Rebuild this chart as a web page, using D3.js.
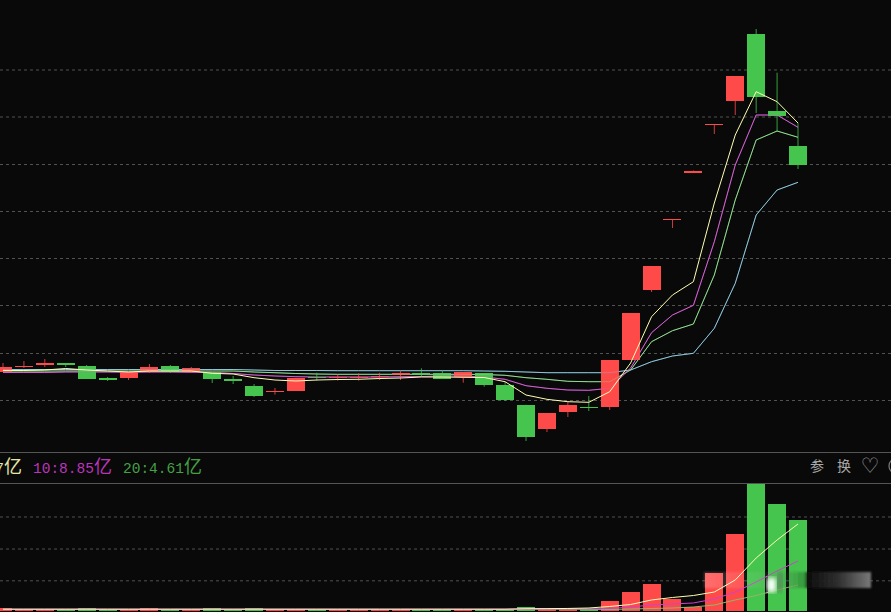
<!DOCTYPE html>
<meta charset="utf-8">
<style>
html, body { margin: 0; padding: 0; background: #090909; overflow: hidden; }
svg { display: block; }
.grid line { stroke: #525252; stroke-dasharray: 3,3; }
.grid path { display: none; }
.grid text { display: none; }
</style>

<svg width="891" height="612"></svg>

<script src="https://cdn.jsdelivr.net/npm/d3@7"></script>

<script>

// daily candles
var opens  = [7.80,8.27,8.47,8.70,8.40,7.20,7.20,7.77,8.40,7.80,7.77,7.10,6.40,5.80,5.90,7.33,7.20,7.23,7.33,7.53,7.70,7.70,7.33,7.70,6.50,4.53,2.10,3.80,4.30,4.30,9.00,16.00,23.03,27.75,32.50,34.90,41.60,33.87,30.40];
var closes = [8.27,8.40,8.73,8.50,7.10,7.00,7.77,8.30,7.80,8.20,7.10,6.93,5.40,5.93,7.23,7.23,7.33,7.33,7.43,7.73,7.50,7.10,7.80,6.50,5.00,1.30,3.70,4.50,4.20,9.00,13.70,18.40,23.10,27.95,32.60,37.40,35.30,33.40,28.50];
var highs  = [8.70,8.90,9.10,8.70,8.50,7.30,7.77,8.60,8.50,8.30,7.77,7.40,6.60,6.20,7.23,7.73,7.60,7.67,7.73,7.90,8.17,7.93,7.80,7.70,6.83,4.53,3.70,4.83,5.40,9.00,13.70,18.40,23.10,27.95,32.60,37.40,42.10,37.73,32.70];
var lows   = [7.80,8.20,8.30,8.30,7.10,6.90,7.00,7.70,7.70,7.70,6.70,6.60,5.30,5.53,5.90,6.93,6.93,6.93,7.00,7.00,7.33,7.10,6.73,6.33,4.90,0.90,1.80,3.30,3.90,4.00,9.00,15.80,22.20,27.75,31.60,33.50,33.70,31.83,28.10];

// price moving averages
var ma5  = [7.95,7.95,8.00,8.15,8.00,7.90,7.80,7.90,7.90,7.90,7.67,7.60,7.23,7.00,6.90,7.00,7.05,7.07,7.15,7.20,7.30,7.30,7.27,7.25,6.83,5.50,5.07,4.83,4.77,5.83,8.70,13.33,15.50,16.83,24.70,31.50,35.83,34.83,32.70];
var ma10 = [7.75,7.75,7.75,7.80,7.80,7.80,7.77,7.80,7.80,7.77,7.77,7.65,7.50,7.40,7.33,7.30,7.30,7.30,7.30,7.33,7.35,7.40,7.40,7.30,7.07,6.43,6.17,6.00,5.97,6.17,8.20,11.73,13.50,14.47,20.83,28.50,33.50,33.50,32.27];
var ma20 = [7.90,7.90,7.90,7.90,7.90,7.90,7.90,7.90,7.90,7.90,7.90,7.90,7.80,7.73,7.65,7.60,7.57,7.57,7.57,7.57,7.57,7.57,7.57,7.55,7.47,7.23,7.07,6.87,6.83,6.83,8.00,10.83,11.93,12.60,17.50,25.00,31.00,31.90,31.27];
var ma60 = [8.05,8.05,8.05,8.05,8.05,8.05,8.05,8.05,8.05,8.05,8.05,8.05,8.00,7.95,7.95,7.95,7.93,7.93,7.93,7.93,7.93,7.93,7.93,7.90,7.87,7.80,7.73,7.73,7.73,7.73,8.00,8.83,9.40,9.67,12.17,16.67,23.50,26.00,26.77];

// volume, in 亿
var volumes = [0.48,0.27,0.27,0.27,0.48,0.27,0.27,0.48,0.27,0.27,0.48,0.27,0.48,0.27,0.27,0.27,0.27,0.27,0.27,0.27,0.27,0.27,0.27,0.27,0.27,0.76,0.27,0.27,0.35,1.77,3.36,4.78,2.12,0.76,6.73,13.63,22.48,18.94,16.11];
var volMa5  = [0.32,0.32,0.32,0.32,0.32,0.32,0.32,0.32,0.32,0.32,0.32,0.32,0.32,0.32,0.32,0.32,0.32,0.32,0.32,0.32,0.32,0.32,0.32,0.32,0.32,0.40,0.42,0.45,0.53,0.80,1.15,1.95,2.39,2.74,3.36,5.49,9.38,12.57,15.40];
var volMa10 = [0.32,0.32,0.32,0.32,0.32,0.32,0.32,0.32,0.32,0.32,0.32,0.32,0.32,0.32,0.32,0.32,0.32,0.32,0.32,0.32,0.32,0.32,0.32,0.32,0.32,0.35,0.36,0.38,0.40,0.44,0.71,1.06,1.24,1.42,2.12,3.36,5.13,7.08,8.85];
var volMa20 = [0.30,0.30,0.30,0.30,0.30,0.30,0.30,0.30,0.30,0.30,0.30,0.30,0.30,0.30,0.30,0.30,0.30,0.30,0.30,0.30,0.30,0.30,0.30,0.30,0.30,0.30,0.30,0.30,0.30,0.27,0.35,0.44,0.53,0.71,1.06,1.95,2.74,3.72,4.61];

// grid levels (no labels in the picture)
var priceGrid = [38.05,33.35,28.60,23.90,19.20,14.50,9.70,5.00];
var volGrid = [16.73,11.06,5.43];

var legendLabels = ["5:15.37", "10:8.85", "20:4.61"];
var toolLabels = ["参", "换"];

var RED = "#ff4a4a", GREEN = "#45c44e";

var svg = d3.select("svg"),
    width = +svg.attr("width");

var x = d3.scaleLinear().domain([0, 38]).range([3, 798]);
var y = d3.scaleLinear().domain([0, 45]).range([450, 0]);
var yVol = d3.scaleLinear().domain([0, 22.48]).range([611, 484]);

var bodyW = 18;

function isUp(i) { return closes[i] >= opens[i]; }
var idx = d3.range(opens.length);

// grids
svg.append("g").attr("class", "grid")
    .call(d3.axisLeft(y).tickValues(priceGrid).tickSize(-width).tickFormat(""));
svg.append("g").attr("class", "grid")
    .call(d3.axisLeft(yVol).tickValues(volGrid).tickSize(-width).tickFormat(""));

// panel separators
svg.selectAll(".sep")
    .data([452.5, 483.5])
    .enter().append("line")
    .attr("x1", 0).attr("x2", width)
    .attr("y1", function(d) { return d; })
    .attr("y2", function(d) { return d; })
    .attr("stroke", "#555");

function drawLine(data, yScale, color, opacity) {
    var line = d3.line()
        .x(function(d, i) { return x(i); })
        .y(function(d) { return yScale(d); });
    svg.append("path")
        .attr("d", line(data))
        .attr("fill", "none")
        .attr("stroke", color)
        .attr("stroke-opacity", opacity === undefined ? 1 : opacity)
        .attr("stroke-width", 1);
}

drawLine(ma60, y, "#8cc6da");
drawLine(ma20, y, "#8fdc8f");
drawLine(ma10, y, "#d45fd4");

// wicks
svg.selectAll(".wick")
    .data(idx)
    .enter().append("line")
    .attr("x1", function(i) { return x(i); })
    .attr("x2", function(i) { return x(i); })
    .attr("y1", function(i) { return y(highs[i]); })
    .attr("y2", function(i) { return y(lows[i]); })
    .attr("stroke", function(i) { return isUp(i) ? RED : GREEN; })
    .attr("stroke-opacity", 0.8);

// bodies
svg.selectAll(".body")
    .data(idx)
    .enter().append("rect")
    .attr("x", function(i) { return x(i) - bodyW / 2; })
    .attr("width", bodyW)
    .attr("y", function(i) { return y(Math.max(opens[i], closes[i])); })
    .attr("height", function(i) { return Math.max(1, Math.abs(y(opens[i]) - y(closes[i]))); })
    .attr("fill", function(i) { return isUp(i) ? RED : GREEN; })
    .attr("shape-rendering", "crispEdges");

// lines show faintly through the candles
drawLine(ma60, y, "#8cc6da", 0.35);
drawLine(ma20, y, "#8fdc8f", 0.35);
drawLine(ma10, y, "#d45fd4", 0.35);
drawLine(ma5, y, "#ffffb4");

// volume bars
svg.selectAll(".vol")
    .data(idx)
    .enter().append("rect")
    .attr("x", function(i) { return x(i) - bodyW / 2; })
    .attr("width", bodyW)
    .attr("y", function(i) { return yVol(volumes[i]); })
    .attr("height", function(i) { return yVol(0) - yVol(volumes[i]); })
    .attr("fill", function(i) { return isUp(i) ? RED : GREEN; })
    .attr("shape-rendering", "crispEdges");

drawLine(volMa20, yVol, "#8fb86a");
drawLine(volMa10, yVol, "#d040d0");
drawLine(volMa5, yVol, "#ffffb4");

// legend line between the panels
var legendX = [-57, 33, 123],
    legendColors = ["#e6e6a8", "#bb35bb", "#45a045"];

legendLabels.forEach(function(label, i) {
    var t = svg.append("text")
        .attr("x", legendX[i])
        .attr("y", 473)
        .attr("fill", legendColors[i])
        .style("font-family", "'Liberation Mono', monospace")
        .style("font-size", "14.5px")
        .text(label);
    t.append("tspan")
        .style("font-family", "'Noto Sans CJK SC'")
        .style("font-size", "18px")
        .text("亿");
});

// tool icons at the right of the legend line
toolLabels.forEach(function(label, i) {
    svg.append("text")
        .attr("x", 817 + i * 27)
        .attr("y", 471)
        .attr("text-anchor", "middle")
        .attr("fill", "#a8a8a8")
        .style("font-family", "'Noto Sans CJK SC'")
        .style("font-size", "14px")
        .text(label);
});
svg.append("text")
    .attr("x", 870)
    .attr("y", 473)
    .attr("text-anchor", "middle")
    .attr("fill", "#a0a0a0")
    .style("font-family", "'DejaVu Sans'")
    .style("font-size", "21px")
    .text("♡");
svg.append("circle")
    .attr("cx", 897).attr("cy", 466).attr("r", 8)
    .attr("fill", "none").attr("stroke", "#777").attr("stroke-width", 1.3);

// blurred watermark strip over the volume panel
var defs = svg.append("defs");
var grad = defs.append("linearGradient").attr("id", "smear");
[[0, "#ffffff", 0.2], [0.12, "#ffffff", 0.14], [0.25, "#ffffff", 0.06], [0.6, "#000000", 0.2], [0.63, "#101010", 0.9], [0.8, "#303030", 0.95], [1, "#7a7a7a", 1]]
    .forEach(function(s) {
        grad.append("stop")
            .attr("offset", s[0])
            .attr("stop-color", s[1])
            .attr("stop-opacity", s[2]);
    });
defs.append("filter").attr("id", "soft")
    .append("feGaussianBlur").attr("stdDeviation", 2.5);
defs.append("filter").attr("id", "softer")
    .append("feGaussianBlur").attr("stdDeviation", 1);

svg.append("rect")
    .attr("x", 704).attr("y", 572)
    .attr("width", 167).attr("height", 16)
    .attr("fill", "url(#smear)")
    .attr("filter", "url(#softer)");
svg.append("rect")
    .attr("x", 767).attr("y", 578)
    .attr("width", 9).attr("height", 14)
    .attr("fill", "#ffffff")
    .attr("filter", "url(#soft)");
svg.append("rect")
    .attr("x", 778).attr("y", 572)
    .attr("width", 4).attr("height", 20)
    .attr("fill", "#666")
    .attr("fill-opacity", 0.7)
    .attr("filter", "url(#soft)");

</script>
